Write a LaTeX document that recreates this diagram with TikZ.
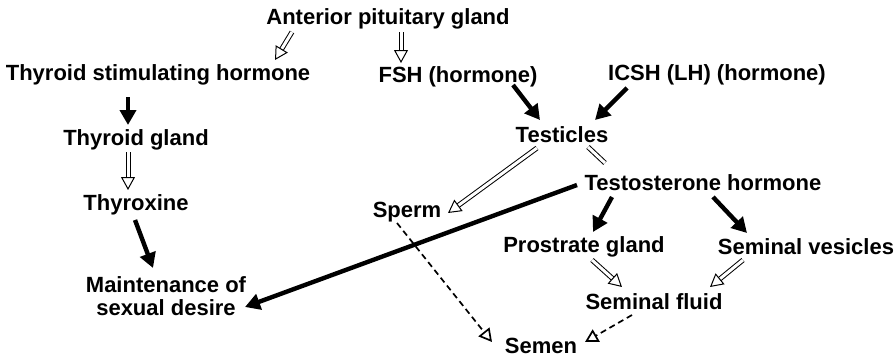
\documentclass[tikz,border=0pt]{standalone}
\usepackage{fontspec}
\setmainfont{Liberation Sans}
\usetikzlibrary{arrows.meta,calc}
\begin{document}
\begin{tikzpicture}[x=0.5pt, y=-0.5pt,
  font=\fontsize{11}{11.5}\selectfont\bfseries,
  every node/.style={inner sep=0pt},
  heavy/.style={line width=2.2pt, -{Triangle[length=7.5pt,width=8pt]}},
  twin/.style={double, double distance=1.5pt, line width=0.5pt},
  hollow/.style={twin, -{Triangle[open,length=6.5pt,width=7pt]}},
  broken/.style={line width=0.85pt, dash pattern=on 3pt off 2pt, -{Triangle[open,length=6.5pt,width=7pt]}}]
\useasboundingbox (0,0) rectangle (894,359);

\node (ant) at (388,19) {Anterior pituitary gland};
\node (tsh) at (158,75) {Thyroid stimulating hormone};
\node (fsh) at (458,77) {FSH (hormone)};
\node (icsh) at (717,75) {ICSH (LH) (hormone)};
\node (tgl) at (136,140) {Thyroid gland};
\node (thx) at (136,205) {Thyroxine};
\node[align=center] (main) at (166,296) {Maintenance of\\sexual desire};
\node (tes) at (562,135) {Testicles};
\node (sperm) at (407,212) {Sperm};
\node (testo) at (703,183) {Testosterone hormone};
\node (pros) at (584,247) {Prostrate gland};
\node (vesi) at (806,247) {Seminal vesicles};
\node (fluid) at (654,302) {Seminal fluid};
\node (semen) at (541,346) {Semen};

\draw[hollow] ($(ant)+(-96,13)$) -- ($(tsh)+(117,-15)$);
\draw[hollow] ($(ant)+(13,13)$) -- ($(fsh)+(-57,-14)$);
\draw[heavy] ($(tsh)+(-30,22)$) -- ($(tgl)+(-8,-15)$);
\draw[hollow] ($(tgl)+(-8,12)$) -- ($(thx)+(-8,-15)$);
\draw[heavy] ($(thx)+(-1,15)$) -- ($(main)+(-13,-28)$);

\draw[heavy] ($(fsh)+(55,8)$) -- ($(tes)+(-22,-15)$);
\draw[heavy] ($(icsh)+(-90,13)$) -- ($(tes)+(33,-15)$);
\draw[hollow] ($(tes)+(-25,13)$) -- ($(sperm)+(41,1)$);
\draw[twin] ($(tes)+(26,12)$) -- ($(testo)+(-98,-20)$);
\draw[heavy] ($(testo)+(-126,2)$) -- ($(main)+(79,11)$);
\draw[heavy] ($(testo)+(-91,14)$) -- ($(pros)+(9,-15)$);
\draw[heavy] ($(testo)+(10,14)$) -- ($(vesi)+(-59,-14)$);
\draw[hollow] ($(pros)+(8,13)$) -- ($(fluid)+(-32,-15)$);
\draw[hollow] ($(vesi)+(-63,13)$) -- ($(fluid)+(56,-15)$);
\draw[broken] ($(sperm)+(-10,11)$) -- ($(semen)+(-49,-4)$);
\draw[broken] ($(fluid)+(-22,13)$) -- ($(semen)+(44,-4)$);
\end{tikzpicture}
\end{document}
